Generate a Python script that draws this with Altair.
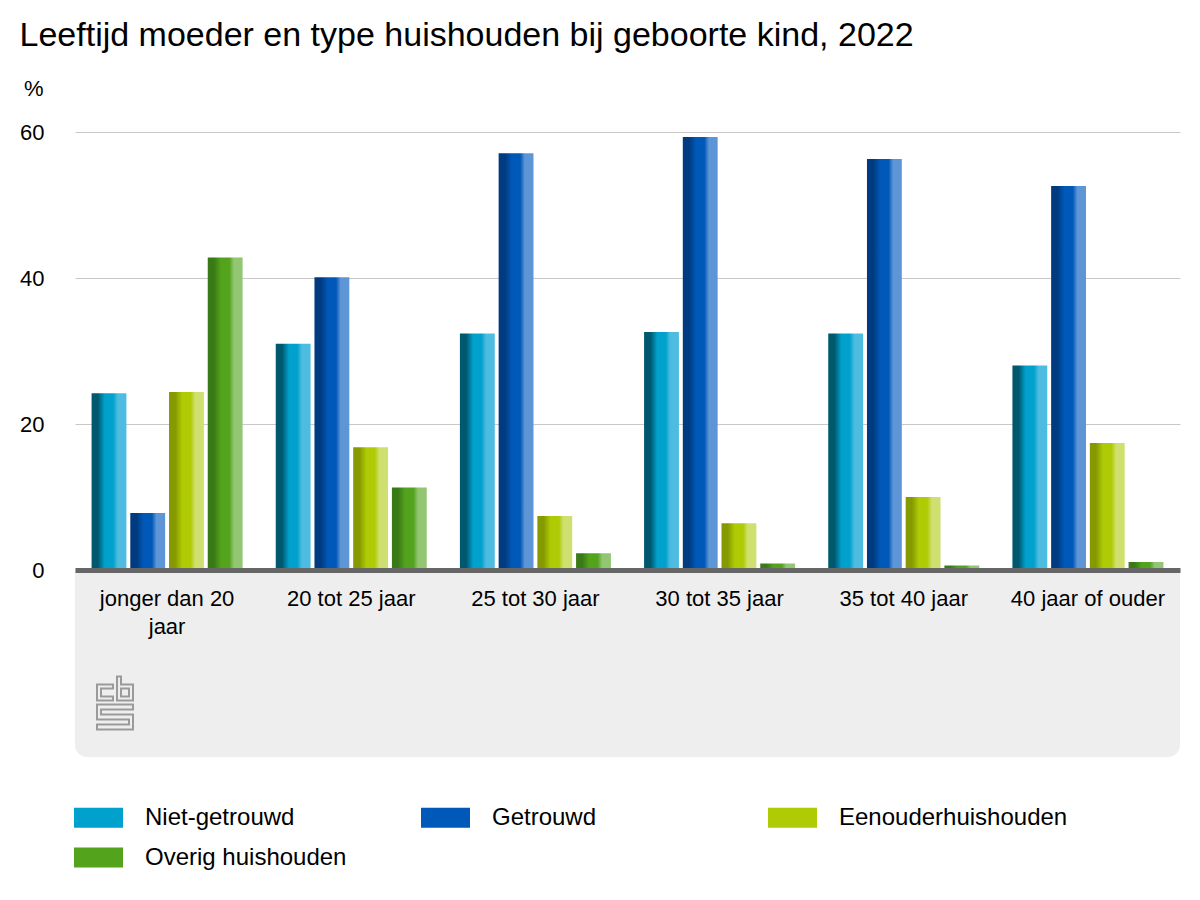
import altair as alt
import pandas as pd

categories = ["jonger dan 20 jaar", "20 tot 25 jaar", "25 tot 30 jaar",
              "30 tot 35 jaar", "35 tot 40 jaar", "40 jaar of ouder"]
series = ["Niet-getrouwd", "Getrouwd", "Eenouderhuishouden", "Overig huishouden"]
niet_getrouwd = [24.2, 31.0, 32.4, 32.6, 32.4, 28.0]
getrouwd = [7.8, 40.1, 57.1, 59.3, 56.3, 52.6]
eenouder = [24.4, 16.8, 7.4, 6.4, 10.0, 17.4]
overig = [42.8, 11.3, 2.3, 0.9, 0.6, 1.1]

base_colors = ["#00a1cd", "#0058b8", "#afcb05", "#53a31d"]
dark_colors = ["#00586e", "#003a80", "#869a00", "#3a7a16"]
light_colors = ["#4dbce0", "#5e95d6", "#cfe070", "#92c672"]

values = [niet_getrouwd, getrouwd, eenouder, overig]
rows = []
for s, vals in zip(series, values):
    for c, v in zip(categories, vals):
        rows.append({"categorie": c, "reeks": s, "waarde": v})
df = pd.DataFrame(rows)

FONT = "Liberation Sans"
W, H = 1105, 438

x_enc = alt.X("categorie:N", sort=categories,
              scale=alt.Scale(paddingInner=0.18, paddingOuter=0.09),
              axis=alt.Axis(title=None, labelFontSize=22, labelColor="#000000", labelFont=FONT,
                            labelAngle=0, labelPadding=18, ticks=False, zindex=2,
                            domainColor="#666666", domainWidth=5, labelLineHeight=28,
                            labelLimit=300,
                            labelExpr="datum.label == 'jonger dan 20 jaar' ? ['jonger dan 20', 'jaar'] : datum.label"))
xo_enc = alt.XOffset("reeks:N", sort=series, scale=alt.Scale(domain=series, paddingInner=0.1, paddingOuter=0))
y_enc = alt.Y("waarde:Q", scale=alt.Scale(domain=[0, 60], nice=False),
              axis=alt.Axis(values=[0, 20, 40, 60], title="%", titleAngle=0, titleAlign="right",
                            titleX=-32, titleY=-44, titleBaseline="middle", titleFontSize=22,
                            titleFontWeight="normal", titleFont=FONT, titleColor="#000000",
                            labelFontSize=22, labelFont=FONT, labelColor="#000000", labelPadding=31,
                            ticks=False, domain=False, gridColor="#c8c8c8", gridWidth=1))

box = alt.Chart(alt.Data(values=[{}])).mark_rect(
    color="#eeeeee", cornerRadiusBottomLeft=12, cornerRadiusBottomRight=12
).encode(x=alt.value(0), x2=alt.value(W), y=alt.value(H + 2), y2=alt.value(H + 187))

bar_layers = []
for i, s in enumerate(series):
    grad = alt.LinearGradient(
        gradient="linear", x1=0, x2=1, y1=0, y2=0,
        stops=[alt.GradientStop(offset=0, color=dark_colors[i]),
               alt.GradientStop(offset=0.18, color=dark_colors[i]),
               alt.GradientStop(offset=0.38, color=base_colors[i]),
               alt.GradientStop(offset=0.62, color=base_colors[i]),
               alt.GradientStop(offset=0.75, color=light_colors[i]),
               alt.GradientStop(offset=1, color=light_colors[i])])
    bar_layers.append(
        alt.Chart(df).transform_filter(alt.datum.reeks == s)
        .mark_bar(color=grad)
        .encode(x=x_enc, xOffset=xo_enc, y=y_enc)
    )

legend_layer = alt.Chart(df).mark_square(opacity=0).encode(
    x=alt.value(0), y=alt.value(0),
    color=alt.Color("reeks:N", scale=alt.Scale(domain=series, range=base_colors),
                    legend=alt.Legend(title=None, orient="none", legendX=-1, legendY=661,
                                      direction="horizontal", columns=3, gridAlign="all",
                                      symbolType="M-1,-0.408H1V0.408H-1Z", symbolSize=2401,
                                      symbolOpacity=1, symbolStrokeWidth=0,
                                      labelFontSize=24, labelFont=FONT, labelColor="#000000",
                                      labelLimit=400,
                                      labelOffset=22, columnPadding=47, rowPadding=3))
)

# CBS logo (decorative outline)
logo_pts = [
    [(16, 9), (0, 9), (0, 25), (16, 25), (16, 21), (4, 21), (4, 13), (16, 13)],
    [(20, 1), (24, 1), (24, 9), (36, 9), (36, 25), (20, 25)],
    [(24, 13), (32, 13), (32, 21), (24, 21)],
    [(36, 29), (0, 29), (0, 44), (32, 44), (32, 49), (0, 49), (0, 54), (36, 54), (36, 39), (4, 39), (4, 34), (36, 34)],
]
path = ""
for poly in logo_pts:
    pts = [((px - 18) / 27.5, (py - 27.5) / 27.5) for px, py in poly]
    path += "M" + "L".join(f"{a:.3f},{b:.3f}" for a, b in pts) + "Z"

logo = alt.Chart(alt.Data(values=[{}])).mark_point(
    shape=path, size=55 * 55, filled=False, stroke="#9a9a9a", strokeWidth=2, opacity=1
).encode(x=alt.value(40), y=alt.value(571))

chart = alt.layer(box, *bar_layers, legend_layer, logo).properties(
    width=W, height=H,
    background="#ffffff",
    autosize=alt.AutoSizeParams(type="none"),
    padding={"left": 67, "top": 124, "right": 12, "bottom": 330},
    title=alt.TitleParams("Leeftijd moeder en type huishouden bij geboorte kind, 2022",
                          anchor="start", dx=0, fontSize=34, font=FONT, fontWeight="normal",
                          color="#000000", offset=24),
).configure_view(strokeWidth=0, stroke=None)

chart.save("out.html", embed_options={"renderer": "svg", "actions": False})
